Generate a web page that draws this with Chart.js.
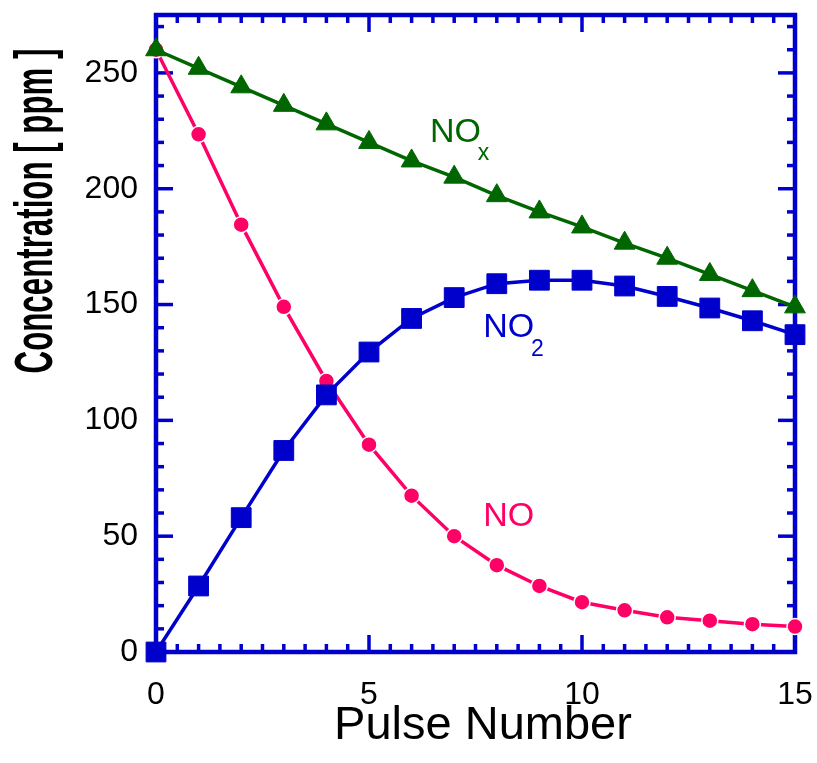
<!DOCTYPE html>
<html lang="en">
<head>
<meta charset="UTF-8">
<title>NO / NO2 / NOx vs Pulse Number</title>
<script src="https://cdn.jsdelivr.net/npm/chart.js"></script>
<style>
  html, body { margin: 0; padding: 0; background: #fff; }
  #wrap { width: 817px; height: 763px; }
</style>
</head>
<body>
<div id="wrap"><canvas id="pulseChart" width="817" height="763"></canvas></div>
<script>
// data
const pulses     = [0, 1, 2, 3, 4, 5, 6, 7, 8, 9, 10, 11, 12, 13, 14, 15];
const noxValues  = [260, 252, 244, 236, 228, 220, 212, 205, 197, 190, 183.5, 176.5, 170, 163, 156, 149];
const no2Values  = [0, 28.5, 58, 87, 111, 129.5, 144, 153, 159, 160.5, 160.5, 158, 153.5, 148.5, 143, 137];
const noValues   = [260, 223.5, 184.5, 149, 117, 89.5, 67.5, 50, 37.5, 28.5, 21.5, 18, 15, 13.5, 12, 11];

const xTickValues = [0, 5, 10, 15];
const yTickValues = [0, 50, 100, 150, 200, 250];
const xMinorStep = 0.5;
const yMinorStep = 10;

const BLUE = '#0000cc';
const GREEN = '#006600';
const PINK = '#ff0066';
const FONT = '"Liberation Sans", Arial, Helvetica, sans-serif';

const toPoints = vals => pulses.map((p, i) => ({ x: p, y: vals[i] }));

// blue box with inward ticks, series labels, axis titles
const framePlugin = {
  id: 'frame',
  beforeDatasetsDraw(chart) {
    const { ctx, chartArea: a, scales: { x, y } } = chart;
    const seg = (x1, y1, x2, y2) => {
      ctx.beginPath(); ctx.moveTo(x1, y1); ctx.lineTo(x2, y2); ctx.stroke();
    };
    ctx.save();
    ctx.strokeStyle = BLUE;
    ctx.lineWidth = 3.5;
    for (let v = x.min; v <= x.max + 1e-9; v += xMinorStep) {
      const px = x.getPixelForValue(v);
      const len = xTickValues.includes(v) ? 17 : 8;
      seg(px, a.bottom, px, a.bottom - len);
      seg(px, a.top, px, a.top + len);
    }
    for (let v = y.min; v <= y.max + 1e-9; v += yMinorStep) {
      const py = y.getPixelForValue(v);
      const len = yTickValues.includes(v) ? 17 : 8;
      seg(a.left, py, a.left + len, py);
      seg(a.right, py, a.right - len, py);
    }
    ctx.lineWidth = 4.5;
    ctx.strokeRect(a.left, a.top, a.right - a.left, a.bottom - a.top);
    ctx.restore();
  },
  afterDraw(chart) {
    const { ctx, scales: { x, y } } = chart;
    const put = (text, xv, yv, size, color) => {
      ctx.font = size + 'px ' + FONT;
      ctx.fillStyle = color;
      ctx.textAlign = 'left';
      ctx.textBaseline = 'alphabetic';
      ctx.fillText(text, x.getPixelForValue(xv), y.getPixelForValue(yv));
    };
    ctx.save();
    put('NO', 6.43, 220, 34, GREEN);
    put('x', 7.55, 212.3, 23, GREEN);
    put('NO', 7.68, 136.2, 34, BLUE);
    put('2', 8.8, 127.6, 23, BLUE);
    put('NO', 7.68, 54.5, 34, PINK);

    // x axis title
    ctx.font = '47px ' + FONT;
    ctx.fillStyle = '#000';
    ctx.textAlign = 'center';
    ctx.textBaseline = 'alphabetic';
    ctx.fillText('Pulse Number', 483, 739);

    // y axis title, rotated and condensed
    ctx.translate(52, 211);
    ctx.rotate(-Math.PI / 2);
    ctx.scale(0.59, 1);
    ctx.font = 'bold 53px ' + FONT;
    ctx.fillText('Concentration [ ppm ]', 0, 0);
    ctx.restore();
  }
};

new Chart(document.getElementById('pulseChart'), {
  type: 'scatter',
  data: {
    datasets: [
      {
        label: 'NOx',
        data: toPoints(noxValues),
        showLine: true,
        borderColor: GREEN,
        borderWidth: 3.5,
        pointStyle: 'triangle',
        pointRadius: 12,
        pointBackgroundColor: GREEN,
        pointBorderColor: GREEN,
        pointBorderWidth: 1,
        clip: false
      },
      {
        label: 'NO2',
        data: toPoints(no2Values),
        showLine: true,
        borderColor: BLUE,
        borderWidth: 3.5,
        pointStyle: 'rect',
        pointRadius: 14,
        pointBackgroundColor: BLUE,
        pointBorderColor: BLUE,
        pointBorderWidth: 1,
        clip: false
      },
      {
        label: 'NO',
        data: toPoints(noValues),
        showLine: true,
        borderColor: PINK,
        borderWidth: 3.5,
        pointStyle: 'circle',
        pointRadius: 8,
        pointBackgroundColor: PINK,
        pointBorderColor: '#ffffff',
        pointBorderWidth: 1.5,
        clip: false
      }
    ]
  },
  options: {
    responsive: false,
    animation: false,
    devicePixelRatio: 1,
    layout: { padding: { top: 12, right: 22, left: 0, bottom: 0 } },
    plugins: { legend: { display: false }, tooltip: { enabled: false } },
    scales: {
      x: {
        type: 'linear',
        min: 0,
        max: 15,
        grid: { display: false, drawTicks: false },
        border: { display: false },
        afterBuildTicks: s => { s.ticks = xTickValues.map(v => ({ value: v })); },
        afterFit: s => { s.height = 111; s.paddingLeft = 0; s.paddingRight = 0; },
        ticks: { color: '#000', padding: 24, maxRotation: 0, font: { family: FONT, size: 32 } }
      },
      y: {
        type: 'linear',
        min: 0,
        max: 275,
        grid: { display: false, drawTicks: false },
        border: { display: false },
        afterBuildTicks: s => { s.ticks = yTickValues.map(v => ({ value: v })); },
        afterFit: s => { s.width = 156; s.paddingTop = 0; s.paddingBottom = 0; },
        ticks: { color: '#000', padding: 18, font: { family: FONT, size: 32 } }
      }
    }
  },
  plugins: [framePlugin]
});
</script>
</body>
</html>
